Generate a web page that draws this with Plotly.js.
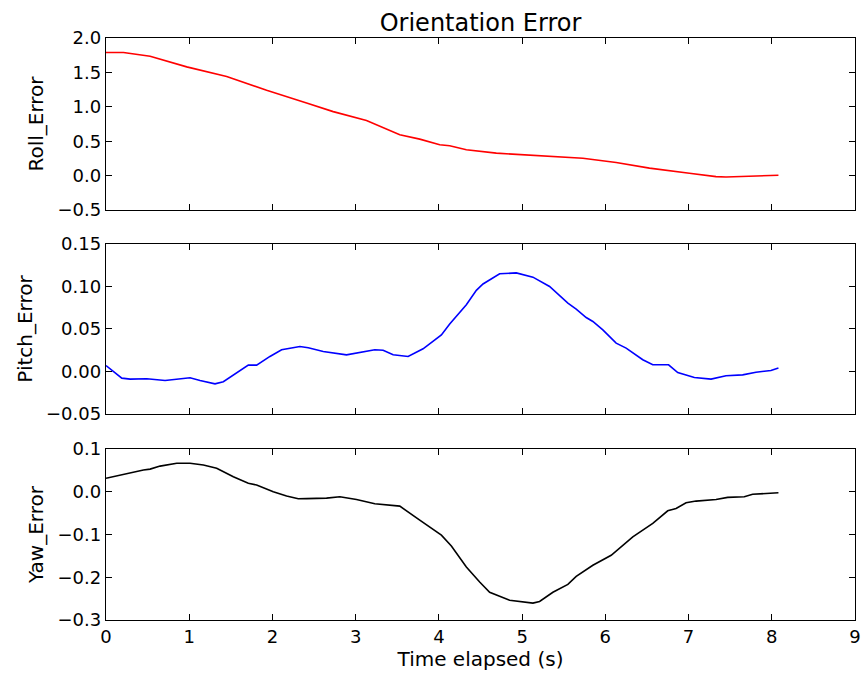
<!DOCTYPE html>
<html>
<head>
<meta charset="utf-8">
<script src="https://cdn.plot.ly/plotly-3.0.1.min.js"></script>
<style>html,body{margin:0;padding:0;background:#fff}#chart{width:861px;height:678px}</style>
</head>
<body>
<div id="chart"></div>
<script>
// Roll error
const timeRoll = [0, 0.21, 0.53, 0.97, 1.45, 1.93, 2.41, 2.73, 3.13, 3.53, 3.77, 4.01, 4.13, 4.33, 4.69, 5.33, 5.73, 6.13, 6.53, 7.01, 7.33, 7.45, 7.73, 8.08];
const rollErr = [1.79, 1.79, 1.735, 1.58, 1.44, 1.24, 1.055, 0.93, 0.80, 0.593, 0.53, 0.447, 0.433, 0.375, 0.326, 0.287, 0.253, 0.19, 0.108, 0.035, -0.015, -0.02, -0.005, 0.005];
// Pitch error
const timePitch = [0, 0.19, 0.29, 0.49, 0.71, 0.89, 1.01, 1.13, 1.31, 1.41, 1.53, 1.71, 1.81, 1.97, 2.11, 2.33, 2.43, 2.61, 2.89, 3.09, 3.23, 3.33, 3.45, 3.63, 3.81, 4.03, 4.13, 4.33, 4.45, 4.53, 4.73, 4.93, 5.13, 5.33, 5.55, 5.65, 5.77, 5.85, 5.97, 6.13, 6.25, 6.45, 6.57, 6.76, 6.87, 7.07, 7.27, 7.45, 7.65, 7.81, 7.99, 8.08];
const pitchErr = [0.007, -0.0078, -0.009, -0.0085, -0.0106, -0.0085, -0.0074, -0.0106, -0.0145, -0.012, -0.004, 0.0075, 0.0075, 0.0177, 0.0255, 0.0294, 0.028, 0.0235, 0.0196, 0.0228, 0.0255, 0.025, 0.0196, 0.0177, 0.0267, 0.0431, 0.056, 0.0785, 0.0955, 0.103, 0.115, 0.116, 0.111, 0.100, 0.0805, 0.0734, 0.0635, 0.0589, 0.049, 0.0334, 0.0275, 0.0138, 0.0079, 0.0079, -0.0012, -0.007, -0.009, -0.005, -0.004, -0.0008, 0.0012, 0.004];
// Yaw error
const timeYaw = [0, 0.25, 0.45, 0.53, 0.65, 0.85, 1.01, 1.17, 1.33, 1.53, 1.71, 1.81, 2.01, 2.17, 2.31, 2.41, 2.65, 2.81, 3.01, 3.23, 3.37, 3.53, 3.77, 3.89, 4.03, 4.15, 4.33, 4.49, 4.61, 4.73, 4.85, 5.13, 5.21, 5.37, 5.55, 5.65, 5.85, 6.07, 6.33, 6.57, 6.75, 6.85, 6.97, 7.09, 7.33, 7.47, 7.67, 7.77, 7.97, 8.08];
const yawErr = [0.0315, 0.043, 0.051, 0.053, 0.060, 0.0667, 0.0667, 0.0627, 0.055, 0.035, 0.0197, 0.0157, 0.0, -0.010, -0.0164, -0.016, -0.0148, -0.0117, -0.018, -0.028, -0.031, -0.0336, -0.0664, -0.082, -0.1016, -0.127, -0.176, -0.211, -0.235, -0.2445, -0.254, -0.2605, -0.2566, -0.235, -0.2167, -0.198, -0.172, -0.1486, -0.1056, -0.074, -0.0446, -0.039, -0.0258, -0.0218, -0.018, -0.0132, -0.0117, -0.006, -0.003, -0.0023];

const xTicks = [0, 1, 2, 3, 4, 5, 6, 7, 8, 9];
const rollTicks = [-0.5, 0.0, 0.5, 1.0, 1.5, 2.0];
const pitchTicks = [-0.05, 0.0, 0.05, 0.10, 0.15];
const yawTicks = [-0.3, -0.2, -0.1, 0.0, 0.1];

const tickFont = {family: 'DejaVu Sans', size: 18, color: '#000'};
const labelFont = {family: 'DejaVu Sans', size: 20, color: '#000'};
const axBase = {
  showline: true, linecolor: '#000', linewidth: 1.3, mirror: 'ticks',
  ticks: 'inside', ticklen: 6, tickwidth: 1, tickcolor: '#000',
  showgrid: false, zeroline: false, tickfont: tickFont
};

const traces = [
  {x: timeRoll, y: rollErr, xaxis: 'x', yaxis: 'y', mode: 'lines', line: {color: '#ff0000', width: 1.6}},
  {x: timePitch, y: pitchErr, xaxis: 'x2', yaxis: 'y2', mode: 'lines', line: {color: '#0000ff', width: 1.6}},
  {x: timeYaw, y: yawErr, xaxis: 'x3', yaxis: 'y3', mode: 'lines', line: {color: '#000000', width: 1.6}}
];

const xax = (showLabels, anchor) => Object.assign({}, axBase, {
  range: [0, 9], tickvals: xTicks, showticklabels: showLabels, anchor: anchor
});

const layout = {
  width: 861, height: 678,
  margin: {l: 106, r: 6, t: 38, b: 58},
  paper_bgcolor: '#fff', plot_bgcolor: '#fff',
  showlegend: false,
  font: tickFont,
  title: {text: 'Orientation Error', font: {family: 'DejaVu Sans', size: 24, color: '#000'}, x: 0.5, xanchor: 'center', xref: 'paper', yref: 'container', y: 0.967, yanchor: 'middle'},
  xaxis: xax(false, 'y'),
  xaxis2: xax(false, 'y2'),
  xaxis3: Object.assign(xax(true, 'y3'), {title: {text: 'Time elapsed (s)', font: labelFont, standoff: 4}}),
  yaxis: Object.assign({}, axBase, {domain: [0.7045, 1.0], range: [-0.5, 2.0], tickvals: rollTicks, tickformat: '.1f', anchor: 'x', title: {text: 'Roll_Error', font: labelFont, standoff: 8}}),
  yaxis2: Object.assign({}, axBase, {domain: [0.354, 0.646], range: [-0.05, 0.15], tickvals: pitchTicks, tickformat: '.2f', anchor: 'x2', title: {text: 'Pitch_Error', font: labelFont, standoff: 8}}),
  yaxis3: Object.assign({}, axBase, {domain: [0, 0.2938], range: [-0.3, 0.1], tickvals: yawTicks, tickformat: '.1f', anchor: 'x3', title: {text: 'Yaw_Error', font: labelFont, standoff: 8}})
};

Plotly.newPlot('chart', traces, layout, {displayModeBar: false, staticPlot: true});
</script>
</body>
</html>
